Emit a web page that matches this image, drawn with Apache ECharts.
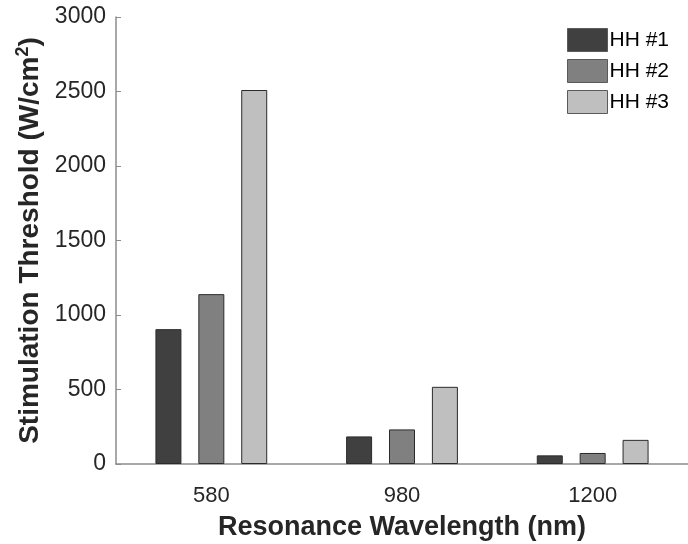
<!DOCTYPE html>
<html>
<head>
<meta charset="utf-8">
<script src="https://cdn.jsdelivr.net/npm/echarts@6/dist/echarts.min.js"></script>
<style>
  html, body { margin: 0; padding: 0; background: #fff; }
  #chart { width: 688px; height: 544px; }
</style>
</head>
<body>
<div id="chart"></div>
<script>
// wavelengths on the x axis
const wavelengths = ['580', '980', '1200'];
// thresholds per hair cell (W/cm^2)
const hh1 = [905, 185, 58];
const hh2 = [1140, 232, 74];
const hh3 = [2510, 518, 162];
const seriesNames = ['HH #1', 'HH #2', 'HH #3'];
const yTicks = [0, 500, 1000, 1500, 2000, 2500, 3000];

const chart = echarts.init(document.getElementById('chart'));

const fills = ['#404040', '#808080', '#bfbfbf'];
const font = 'Liberation Sans, Arial, sans-serif';

let option;

option = {
  animation: false,
  textStyle: { fontFamily: font },
  grid: { left: 116, right: 0, top: 17, bottom: 80, outerBoundsMode: 'none' },
  legend: {
    left: 562,
    top: 23,
    orient: 'vertical',
    itemWidth: 40,
    itemHeight: 23,
    itemGap: 7,
    icon: 'rect',
    itemStyle: { borderColor: '#5a5a5a', borderWidth: 1 },
    textStyle: { fontSize: 21, color: '#000', padding: [0, 0, 0, -3] },
    data: seriesNames
  },
  xAxis: {
    type: 'category',
    data: wavelengths,
    name: 'Resonance Wavelength (nm)',
    nameLocation: 'middle',
    nameGap: 50,
    nameTextStyle: { fontSize: 27, fontWeight: 'bold', color: '#262626' },
    axisLine: { lineStyle: { color: '#8c8c8c', width: 1.5 } },
    axisTick: { alignWithLabel: true, inside: true, length: 5, lineStyle: { color: '#666' } },
    axisLabel: { fontSize: 22, color: '#262626', margin: 21 }
  },
  yAxis: {
    type: 'value',
    min: yTicks[0],
    max: yTicks[yTicks.length - 1],
    interval: 500,
    name: 'Stimulation Threshold (W/cm{sup|2})',
    nameLocation: 'middle',
    nameGap: 59,
    nameTextStyle: {
      fontSize: 28, fontWeight: 'bold', color: '#262626',
      rich: { sup: { fontSize: 18, fontWeight: 'bold', color: '#262626', padding: [0, 0, 14, 0] } }
    },
    axisLine: { show: true, lineStyle: { color: '#8c8c8c', width: 1.5 } },
    axisTick: { show: true, inside: true, length: 5, lineStyle: { color: '#8c8c8c' } },
    axisLabel: { fontSize: 23, color: '#262626', margin: 10, formatter: v => String(v) },
    splitLine: { show: false }
  },
  series: [hh1, hh2, hh3].map((vals, i) => ({
    name: seriesNames[i],
    type: 'bar',
    data: vals,
    barWidth: 26,
    barGap: '65%',
    itemStyle: { color: fills[i], borderColor: '#2b2b2b', borderWidth: 1 }
  }))
};

option && chart.setOption(option);
</script>
</body>
</html>
